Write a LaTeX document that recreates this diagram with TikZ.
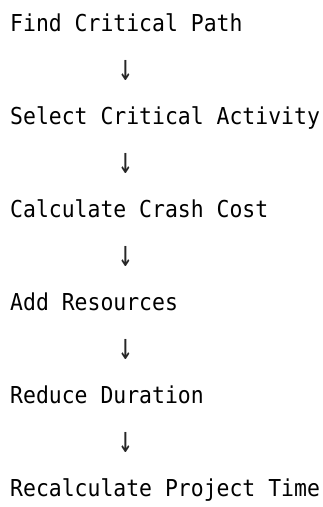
\documentclass[tikz,border=0pt]{standalone}
\usepackage{fontspec}
\setmonofont[FakeStretch=0.92]{DejaVu Sans Mono}
\newfontfamily\arrowfont{DejaVu Sans Mono}
\newcommand{\downarr}{\scalebox{1.05}[1.6]{↓}}
\begin{document}
\begin{tikzpicture}[x=1pt,y=1pt,
  steptext/.style={anchor=base west,inner sep=0pt,font=\ttfamily\fontsize{23.3}{28}\selectfont,text=black},
  arrowtext/.style={anchor=center,inner sep=0pt,font=\arrowfont\fontsize{23.3}{28}\selectfont,text=black!85}]
\useasboundingbox (0,0) rectangle (323,-507);
\node[steptext] (s1) at (10,-31) {Find Critical Path};
\node[steptext] (s2) at (10,-124) {Select Critical Activity};
\node[steptext] (s3) at (10,-217) {Calculate Crash Cost};
\node[steptext] (s4) at (10,-310) {Add Resources};
\node[steptext] (s5) at (10,-403) {Reduce Duration};
\node[steptext] (s6) at (10,-496) {Recalculate Project Time};
\node[arrowtext] (a1) at (126,-70) {\downarr};
\node[arrowtext] (a2) at (126,-163) {\downarr};
\node[arrowtext] (a3) at (126,-256) {\downarr};
\node[arrowtext] (a4) at (126,-349) {\downarr};
\node[arrowtext] (a5) at (126,-442) {\downarr};
\end{tikzpicture}
\end{document}
